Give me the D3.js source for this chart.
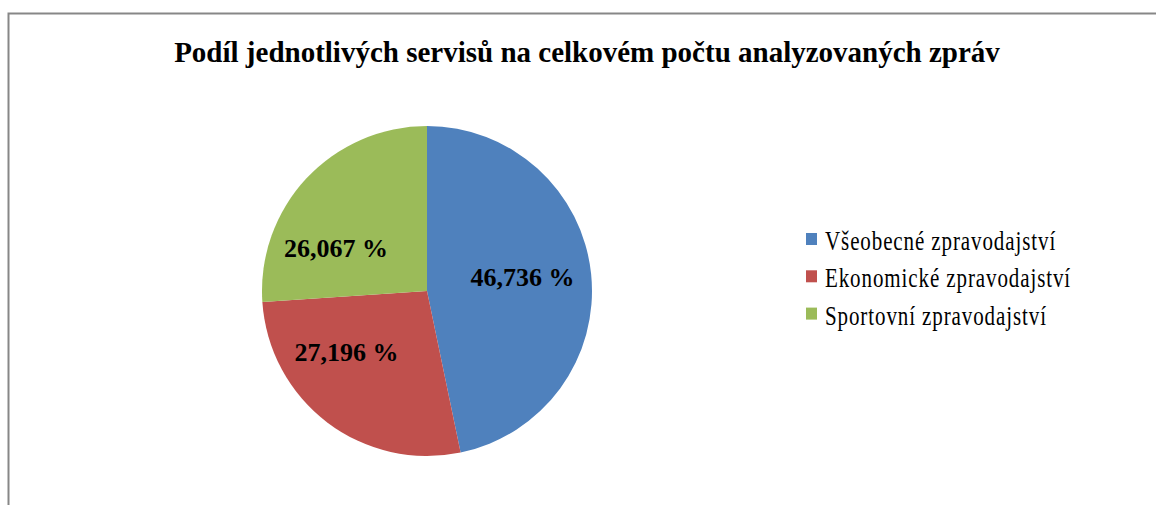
<!DOCTYPE html>
<html>
<head>
<meta charset="utf-8">
<script src="https://cdn.jsdelivr.net/npm/d3@7"></script>
<style>
  body { margin: 0; background: #fff; }
  svg { display: block; }
</style>
</head>
<body>
<script>
// data
var categories = ["Všeobecné zpravodajství", "Ekonomické zpravodajství", "Sportovní zpravodajství"];
var shares = [46.736, 27.196, 26.067];
var labels = ["46,736 %", "27,196 %", "26,067 %"];

var colors = ["#4F81BD", "#C0504D", "#9BBB59"];
// small nudges for the data labels (Excel puts them by hand)
var labelNudge = [[-4, -4], [-20, -19], [-18, 25]];

var width = 1156, height = 505;
var cx = 427, cy = 291, radius = 165;

var svg = d3.select("body").append("svg")
    .attr("width", width)
    .attr("height", height);

// chart frame (runs off the right and bottom)
svg.append("rect")
    .attr("x", 8.5)
    .attr("y", 13.5)
    .attr("width", 1200)
    .attr("height", 600)
    .attr("fill", "#fff")
    .attr("stroke", "#878787")
    .attr("stroke-width", 2);

svg.append("text")
    .attr("x", 587)
    .attr("y", 62)
    .attr("text-anchor", "middle")
    .style("font-family", "'Liberation Serif', 'Times New Roman', serif")
    .style("font-weight", "bold")
    .style("font-size", "29px")
    .text("Podíl jednotlivých servisů na celkovém počtu analyzovaných zpráv");

var pie = d3.pie().sort(null).value(function(d) { return d; });
var arc = d3.arc().innerRadius(0).outerRadius(radius);
var labelArc = d3.arc().innerRadius(100).outerRadius(100);

var g = svg.append("g")
    .attr("transform", "translate(" + cx + "," + cy + ")");

var slices = pie(shares);

g.selectAll("path")
    .data(slices)
  .enter().append("path")
    .attr("d", arc)
    .attr("fill", function(d, i) { return colors[i]; });

g.selectAll(".lbl")
    .data(slices)
  .enter().append("text")
    .attr("class", "lbl")
    .attr("transform", function(d, i) {
      var c = labelArc.centroid(d);
      return "translate(" + (c[0] + labelNudge[i][0]) + "," + (c[1] + labelNudge[i][1]) + ")";
    })
    .attr("text-anchor", "middle")
    .attr("dy", "0.35em")
    .style("font-family", "'Liberation Serif', 'Times New Roman', serif")
    .style("font-weight", "bold")
    .style("font-size", "26px")
    .text(function(d, i) { return labels[i]; });

// legend
var legend = svg.append("g")
    .attr("transform", "translate(806,239)");

var rows = legend.selectAll("g")
    .data(categories)
  .enter().append("g")
    .attr("transform", function(d, i) { return "translate(0," + (i * 37.3) + ")"; });

rows.append("rect")
    .attr("x", 0)
    .attr("y", -6)
    .attr("width", 11)
    .attr("height", 12)
    .attr("fill", function(d, i) { return colors[i]; });

// the legend text in the picture is a little stretched vertically
rows.append("text")
    .attr("transform", "translate(19,11) scale(1,1.25)")
    .style("font-family", "'Liberation Serif', 'Times New Roman', serif")
    .style("font-size", "21px")
    .style("letter-spacing", "0.9px")
    .text(function(d) { return d; });
</script>
</body>
</html>
